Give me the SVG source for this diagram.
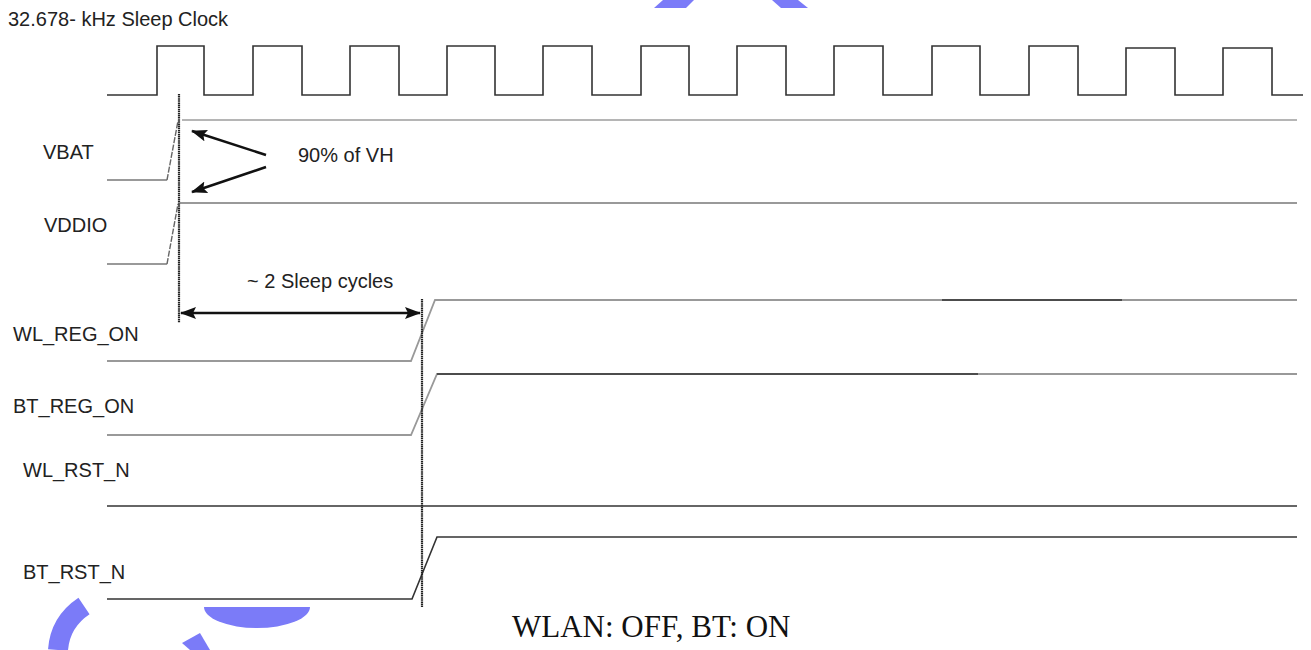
<svg xmlns="http://www.w3.org/2000/svg" width="1311" height="650" viewBox="0 0 1311 650">
  <style>
    .lbl { font-family: "Liberation Sans", Arial, sans-serif; font-size: 20px; fill: #222; }
    .cap { font-family: "Liberation Serif", "Times New Roman", serif; font-size: 31px; fill: #111; }
    .sig { fill: none; stroke: #333; stroke-width: 1.6; }
    .gray { fill: none; stroke: #999; stroke-width: 1.8; }
    .lgray { fill: none; stroke: #b5b5b5; stroke-width: 2.2; }
    .ramp { fill: none; stroke: #666; stroke-width: 1.4; stroke-dasharray: 6 1.5; }
    .vmark { fill: none; stroke: #222; stroke-width: 2.2; stroke-dasharray: 1.5 0.6; }
    .arr { fill: none; stroke: #111; stroke-width: 2.6; }
    .wm { fill: #7b7bf8; }
  </style>
  <defs>
    <marker id="head" viewBox="0 0 16 12" refX="15" refY="6" markerWidth="16" markerHeight="12" markerUnits="userSpaceOnUse" orient="auto-start-reverse">
      <path d="M0 0 L16 6 L0 12 L3 6 Z" fill="#111"/>
    </marker>
  </defs>
  <rect width="1311" height="650" fill="#fff"/>

  <!-- watermark -->
  <g id="watermark">
    <polygon class="wm" points="663,0 694,0 686,8 654,8"/>
    <polygon class="wm" points="772,0 798,0 808,8 781,8"/>
    <path d="M84 606 Q60 622 58 650" fill="none" stroke="#7b7bf8" stroke-width="20"/>
    <path class="wm" d="M204 607 A53 21 0 0 0 310 607 Z"/>
    <polygon class="wm" points="182,643 200,633 210,650 190,650"/>
  </g>

  <g id="clock">
    <text class="lbl" x="8" y="26">32.678- kHz Sleep Clock</text>
    <path class="sig" d="M107 95 H157 V46 H204 V95 H253 V46 H302 V95 H350 V46 H399 V95 H447 V46 H495 V95 H543 V46 H592 V95 H641 V46 H689 V95 H737 V46 H786 V95 H834 V46 H883 V95 H932 V46 H980 V95 H1029 V46 H1078 V95 H1126 V48 H1175 V95 H1223 V48 H1272 V95 H1303"/>
  </g>

  <g id="vbat">
    <text class="lbl" x="43" y="159">VBAT</text>
    <path class="gray" d="M107 180 H167"/>
    <path class="ramp" d="M167 180 L178 121"/>
    <path class="lgray" d="M182 120 H1297"/>
  </g>

  <g id="vddio">
    <text class="lbl" x="44" y="232">VDDIO</text>
    <path class="gray" d="M107 264 H167"/>
    <path class="ramp" d="M167 264 L178 204"/>
    <path class="gray" d="M180 203 H1297"/>
  </g>

  <g id="wl_reg_on">
    <text class="lbl" x="13" y="341">WL_REG_ON</text>
    <path class="gray" d="M107 361 H411 L435 300 H1297"/>
    <path class="sig" d="M942 300 H1122"/>
  </g>

  <g id="bt_reg_on">
    <text class="lbl" x="13" y="413">BT_REG_ON</text>
    <path class="gray" d="M107 435 H411 L437 374 H1297"/>
    <path class="sig" d="M437 374 H978"/>
  </g>

  <g id="wl_rst_n">
    <text class="lbl" x="23" y="477">WL_RST_N</text>
    <path class="sig" d="M107 506 H1297"/>
  </g>

  <g id="bt_rst_n">
    <text class="lbl" x="23" y="579">BT_RST_N</text>
    <path class="sig" d="M107 599 H412 L437 537 H1297"/>
  </g>

  <g id="connectors">
    <path class="vmark" d="M179 94 V323"/>
    <path class="vmark" d="M422 299 V607"/>
    <path class="arr" d="M266 155 L192 131" marker-end="url(#head)"/>
    <path class="arr" d="M266 167 L192 192" marker-end="url(#head)"/>
    <path class="arr" d="M181 313 L420 313" marker-start="url(#head)" marker-end="url(#head)"/>
  </g>

  <g id="annotations">
    <text class="lbl" x="298" y="162">90% of VH</text>
    <text class="lbl" x="247" y="288">~ 2 Sleep cycles</text>
    <text class="cap" x="512" y="637">WLAN: OFF, BT: ON</text>
  </g>
</svg>
